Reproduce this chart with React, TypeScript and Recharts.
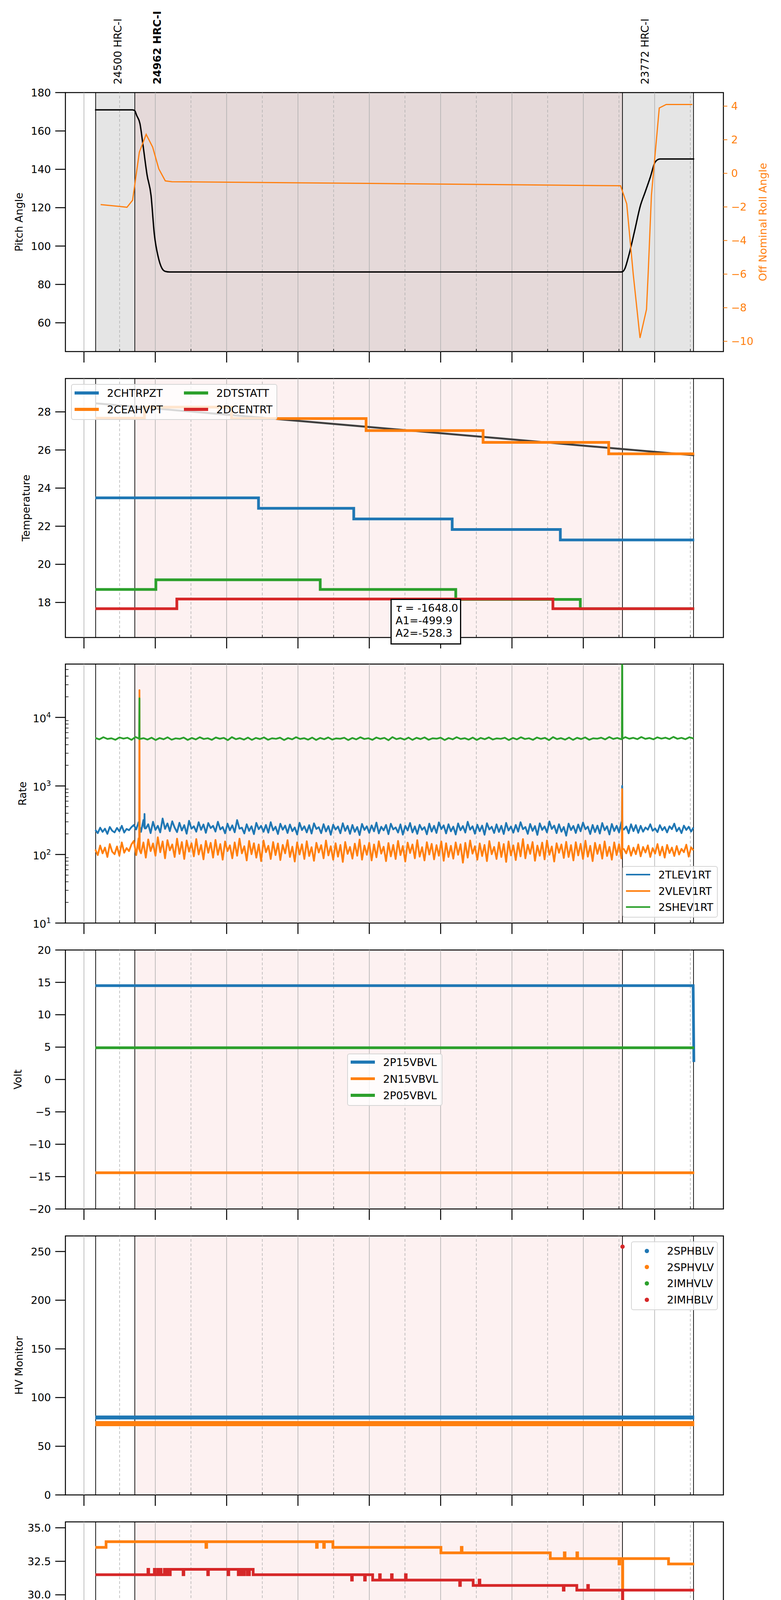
import React from 'react';
import {
  ComposedChart,
  Line,
  Scatter,
  XAxis,
  YAxis,
  ReferenceArea,
  ReferenceLine,
} from 'recharts';

const FONT = '"DejaVu Sans", sans-serif';
const BLUE = '#1f77b4';
const ORANGE = '#ff7f0e';
const GREEN = '#2ca02c';
const RED = '#d62728';

// time is in hours relative to 2021-02-17 00:00 (negative = 23h of the day before)
const X_DOMAIN: [number, number] = [-1.26, 7.964];
const X_TICKS = [-1, -0.5, 0, 0.5, 1, 1.5, 2, 2.5, 3, 3.5, 4, 4.5, 5, 5.5, 6, 6.5, 7, 7.5];
const HOUR_LINES = [-1, 0, 1, 2, 3, 4, 5, 6, 7];
const HALF_LINES = [-0.5, 0.5, 1.5, 2.5, 3.5, 4.5, 5.5, 6.5, 7.5];
const OBS_IDS = ['24500 HRC-I', '24962 HRC-I', '23772 HRC-I'];
const OBS_START = [-0.836, -0.287, 6.549];
const OBS_END = 7.545;
const CURRENT_OBS = 1;

// layout of the stacked panels (page pixels)
const PLOT_RIGHT = 1852.5;
const LEFT_W = 167.5;
const PANEL_H = 663;
const PANEL_STEP = 731.7;
const FIRST_TOP = 237;

type Pair = [number, number];
const toPts = (pairs: Pair[]) => pairs.map(([t, v]) => ({ t, v }));

// ---- panel 1: pitch / roll
const pitchT = [-0.845, -0.32, -0.289, -0.26, -0.216, -0.17, -0.115, -0.06, -0.013, 0.043, 0.092, 0.14, 0.2, 6.52, 6.549, 6.58, 6.637, 6.72, 6.8, 6.866, 6.94, 7.003, 7.04, 7.075, 7.555];
const pitchV = [171, 171, 170.6, 168, 164, 152, 137, 126.5, 106, 94, 88.5, 86.8, 86.5, 86.5, 86.6, 88, 95, 108, 121, 128, 136, 143.5, 145, 145.4, 145.4];
const rollT = [-0.766, -0.5, -0.397, -0.318, -0.224, -0.128, -0.037, 0.049, 0.14, 0.232, 3.0, 6.523, 6.609, 6.7, 6.795, 6.886, 6.91, 6.955, 7.065, 7.162, 7.529];
const rollV = [-1.86, -1.97, -2.02, -1.6, 1.25, 2.32, 1.56, 0.27, -0.45, -0.5, -0.6, -0.74, -1.82, -6.0, -9.8, -8.1, -5.9, -1.3, 3.89, 4.1, 4.1];

// ---- panel 2: temperatures
const chtrpzt: Pair[] = [[-0.84, 23.49], [1.447, 22.94], [2.782, 22.38], [4.162, 21.83], [5.678, 21.28], [7.555, 21.28]];
const ceahvpt: Pair[] = [[-0.84, 27.67], [-0.152, 28.25], [1.069, 27.65], [2.955, 27.02], [4.595, 26.4], [6.356, 25.8], [7.555, 25.8]];
const dtstatt: Pair[] = [[-0.84, 18.68], [0.008, 19.19], [2.312, 18.68], [4.212, 18.16], [5.958, 17.67], [7.555, 17.67]];
const dcentrt: Pair[] = [[-0.84, 17.67], [0.302, 18.18], [5.574, 17.67], [7.555, 17.67]];
const ceahvptFit: Pair[] = [[-0.84, 28.45], [2.958, 27.22], [7.555, 25.72]];
const FIT_TEXT = ['-1648.0', '-499.9', '-528.3'];

// ---- panel 3: rates (regular samples from RATE_T0 to RATE_T1, plus spikes)
const RATE_T0 = -0.84;
const RATE_T1 = 7.545;
const tlev1rt = [
  228, 205, 246, 214, 238, 200, 252, 222, 210, 244, 218, 262, 209, 236, 226, 250, 270, 232, 296, 214, 318, 240, 276, 205, 300,
  228, 262, 210, 335, 236, 284, 219, 305, 247, 212, 290, 224, 268, 201, 310, 238, 258, 215, 296, 229, 274, 207, 288, 243, 262,
  216, 300, 232, 252, 204, 282, 226, 266, 211, 318, 238, 246, 203, 276, 221, 258, 198, 289, 234, 262, 214, 270, 208, 296, 225,
  254, 199, 281, 230, 264, 206, 274, 219, 248, 196, 290, 227, 258, 210, 268, 202, 285, 236, 250, 205, 277, 217, 260, 194, 272,
  231, 256, 204, 286, 221, 262, 200, 270, 214, 252, 192, 279, 228, 258, 207, 266, 218, 292, 203, 254, 225, 270, 198, 281, 232,
  248, 209, 275, 195, 262, 224, 288, 210, 257, 200, 271, 229, 251, 197, 282, 216, 262, 206, 294, 235, 266, 203, 276, 218, 255,
  196, 284, 226, 260, 209, 300, 230, 258, 201, 272, 219, 264, 194, 286, 232, 254, 206, 275, 213, 262, 199, 289, 224, 256, 208,
  270, 216, 296, 234, 252, 200, 279, 221, 260, 193, 285, 229, 257, 210, 303, 236, 264, 205, 276, 215, 252, 188, 282, 227, 261,
  206, 274, 218, 292, 233, 255, 199, 270, 212, 264, 202, 288, 226, 258, 196, 279, 220, 262, 210, 298, 231, 256, 204, 276, 219,
  268, 207, 262, 215, 248, 230, 276, 222, 240, 212, 268, 226, 252, 210, 258, 234, 282, 218, 246, 205, 264, 228, 254, 216, 248,
];
const vlev1rt = [
  118, 98, 135, 104, 126, 92, 142, 110, 101, 131, 96, 150, 106, 124, 112, 140, 158, 98, 172, 104, 150, 90, 166, 112, 145,
  96, 178, 108, 155, 88, 162, 115, 140, 92, 170, 102, 152, 86, 160, 110, 146, 94, 168, 100, 138, 85, 158, 106, 148, 90,
  163, 99, 142, 84, 155, 112, 136, 88, 150, 96, 170, 104, 132, 82, 158, 101, 146, 90, 140, 80, 160, 108, 134, 86, 152,
  98, 145, 83, 138, 104, 162, 92, 130, 79, 150, 100, 141, 86, 156, 95, 128, 81, 148, 107, 137, 88, 160, 97, 132, 84,
  146, 93, 138, 78, 152, 102, 129, 87, 144, 96, 165, 84, 135, 99, 148, 82, 140, 91, 156, 103, 130, 80, 147, 94, 138,
  86, 158, 98, 133, 79, 149, 105, 140, 88, 162, 93, 128, 82, 151, 100, 143, 85, 137, 96, 155, 81, 146, 92, 134, 87,
  150, 99, 141, 76, 148, 90, 160, 103, 132, 84, 145, 95, 138, 80, 157, 101, 129, 86, 150, 92, 142, 78, 155, 97, 136,
  83, 147, 94, 168, 88, 139, 102, 152, 81, 135, 96, 149, 85, 160, 99, 131, 79, 146, 106, 140, 89, 153, 92, 137, 82,
  151, 97, 143, 86, 159, 93, 134, 80, 148, 102, 139, 87, 155, 95, 129, 84, 150, 98, 141, 88, 120, 104, 134, 96, 126,
  101, 140, 94, 129, 107, 136, 92, 124, 103, 142, 97, 130, 90, 138, 105, 126, 95, 133, 100, 121, 108, 139, 93, 127, 115,
];
const shev1rt = [
  5020, 4780, 5140, 4850, 4960, 4720, 5100, 4900, 5050, 4700, 5180, 4820, 4980, 4750, 5060, 4680, 5000, 4800, 5120, 4730, 4950, 4860, 5080, 4690, 5010,
  4770, 5130, 4840, 4970, 4710, 5090, 4880, 5030, 4660, 5150, 4810, 4990, 4740, 5070, 4700, 5020, 4830, 5110, 4720, 4960, 4870, 5060, 4680, 5000, 4790,
  5140, 4850, 4980, 4730, 5080, 4690, 5020, 4810, 5100, 4750, 4950, 4880, 5050, 4670, 5010, 4780, 5130, 4840, 4970, 4710, 5090, 4860, 5030, 4650, 5160,
  4820, 4990, 4740, 5070, 4700, 5040, 4830, 5110, 4720, 4960, 4890, 5060, 4680, 5000, 4790, 5140, 4850, 4980, 4730, 5080, 4690, 5020, 4810, 5100, 4760,
  4950, 4870, 5050, 4670, 5010, 4780, 5130, 4840, 4970, 4710, 5090, 4860, 5030, 4660, 5150, 4820, 4990, 4740, 5070, 4700, 5040, 4830, 5110, 4720, 4960,
  4890, 5060, 4780, 5170, 4850, 5020, 4800, 5150, 4880, 5040, 4820, 5180, 4860, 5010, 4790, 5120, 4900, 5060, 4830, 5200, 4870, 5030, 4810, 5140, 4920,
];
const tlevSpikes: Pair[] = [[-0.155, 250], [-0.151, 390], [-0.147, 240], [6.541, 230], [6.545, 1000], [6.549, 240]];
const vlevSpikes: Pair[] = [[-0.226, 120], [-0.222, 25000], [-0.218, 115], [6.541, 115], [6.545, 900], [6.549, 120]];
const shevSpikes: Pair[] = [[-0.226, 4900], [-0.222, 19000], [-0.218, 4850], [6.541, 4850], [6.545, 200000], [6.549, 4900]];
const RATE_TICKS = [
  10, 20, 30, 40, 50, 60, 70, 80, 90,
  100, 200, 300, 400, 500, 600, 700, 800, 900,
  1000, 2000, 3000, 4000, 5000, 6000, 7000, 8000, 9000,
  10000, 20000, 30000, 40000, 50000, 60000,
];

// ---- panel 4: voltages
const p15vbvl: Pair[] = [[-0.84, 14.5], [7.54, 14.5], [7.55, 2.7]];
const n15vbvl: Pair[] = [[-0.84, -14.4], [7.555, -14.4]];
const p05vbvl: Pair[] = [[-0.84, 4.9], [7.555, 4.9]];

// ---- panel 5: HV monitors
const sphblv: Pair[] = [[-0.84, 79.5], [7.555, 79.5]];
const sphvlv: Pair[] = [[-0.84, 73.2], [7.555, 73.2]];
const imhvlv: Pair[] = [];
const imhblv: Pair[] = [[6.55, 255]];

// ---- panel 6: detector temperatures
const spinatm: Pair[] = [[-0.84, 16.99], [0.232, 17.64], [0.25, 16.99], [0.27, 17.64], [0.295, 16.99], [0.33, 17.64], [6.55, 5], [6.553, 17.64], [7.555, 17.64]];
const sphvatm: Pair[] = [
  [-0.84, 33.54], [-0.69, 33.96], [0.71, 33.54], [0.72, 33.96], [2.26, 33.54], [2.27, 33.96], [2.36, 33.54], [2.37, 33.96],
  [2.49, 33.54], [4.004, 33.13], [4.29, 33.54], [4.3, 33.13], [5.537, 32.7], [5.734, 33.13], [5.744, 32.7], [5.91, 33.13], [5.92, 32.7],
  [6.5, 32.3], [6.51, 32.7], [6.55, 5], [6.553, 32.7], [7.195, 32.3], [7.555, 32.3],
];
const iminatm: Pair[] = [[-0.84, 18.3], [0.232, 18.94], [3.806, 18.3], [6.55, 5], [6.553, 18.3], [6.943, 17.64], [7.555, 17.64]];
const imhvatm: Pair[] = [
  [-0.84, 31.5], [-0.103, 31.9], [-0.093, 31.5], [-0.013, 31.9], [-0.003, 31.5], [0.036, 31.9], [0.046, 31.5], [0.071, 31.9], [0.081, 31.5],
  [0.127, 31.9], [0.15, 31.5], [0.17, 31.9], [0.19, 31.5], [0.21, 31.9], [0.39, 31.5], [0.4, 31.9], [0.735, 31.5], [0.745, 31.9],
  [1.02, 31.5], [1.03, 31.9], [1.163, 31.5], [1.19, 31.9], [1.22, 31.5], [1.25, 31.9], [1.29, 31.5], [1.32, 31.9], [1.372, 31.5],
  [2.752, 31.1], [2.762, 31.5], [2.934, 31.1], [2.944, 31.5], [3.047, 31.1], [3.144, 31.5], [3.154, 31.1], [3.311, 31.5], [3.321, 31.1],
  [3.507, 31.5], [3.517, 31.1], [4.267, 30.7], [4.277, 31.1], [4.456, 30.7], [4.54, 31.1], [4.55, 30.7], [5.72, 30.35], [5.73, 30.7],
  [5.909, 30.35], [6.062, 30.7], [6.072, 30.35], [6.55, 18.0], [6.553, 30.35], [7.555, 30.35],
];

// ---- panel 7: FEA temperatures
const fhtrmzt: Pair[] = [[-0.84, 21.8], [-0.2, 22.35], [0.35, 21.8], [1.314, 21.24], [2.327, 20.7], [3.409, 20.2], [4.61, 19.67], [5.978, 19.15], [6.55, 5], [6.553, 19.15], [7.458, 19.67], [7.555, 19.67]];
const fradpyt: Pair[] = [
  [-0.84, 17.65], [-0.25, 18.14], [0.056, 17.65], [0.302, 17.15], [0.679, 16.67], [1.3, 16.2], [2.153, 15.72], [3.109, 15.25],
  [4.191, 14.78], [5.413, 14.3], [6.55, 5], [6.553, 14.3], [6.782, 14.78], [6.945, 15.25], [6.975, 14.78], [7.312, 15.25], [7.555, 15.25],
];
const fepratm: Pair[] = [[-0.84, 23.86], [1.349, 23.13], [2.906, 22.4], [4.617, 21.68], [6.55, 40], [6.552, 5], [6.555, 21.68], [6.872, 20.94], [6.88, 21.68], [7.555, 21.68]];
const fe00atm: Pair[] = [
  [-0.84, 22.0], [-0.11, 22.65], [-0.1, 22.0], [0.057, 21.1], [0.067, 22.0], [0.441, 22.35], [0.451, 22.0], [0.532, 21.7], [0.542, 22.0],
  [0.812, 22.35], [0.822, 21.7], [1.153, 20.8], [1.163, 21.7], [1.342, 22.65], [1.352, 21.7], [1.384, 20.8], [1.394, 21.7],
  [1.51, 21.4], [1.789, 21.1], [1.799, 21.4], [1.956, 22.0], [1.966, 21.4], [1.991, 22.0], [2.001, 21.4],
  [2.25, 21.07], [2.264, 22.65], [2.274, 21.07], [2.836, 20.75], [2.846, 21.07], [2.899, 21.4], [2.909, 20.5], [2.919, 21.07],
  [3.045, 20.78], [3.095, 21.1], [3.105, 20.78], [3.255, 21.1], [3.265, 20.78], [3.29, 20.5], [3.3, 20.78], [3.395, 19.25], [3.405, 20.78],
  [3.472, 21.1], [3.482, 20.78], [3.66, 21.4], [3.67, 20.78], [3.758, 19.85], [3.768, 20.78], [3.807, 21.1], [3.817, 20.78],
  [3.863, 20.47], [3.953, 21.1], [3.963, 20.47], [4.024, 20.8], [4.034, 20.47], [4.128, 20.8], [4.138, 20.47], [4.254, 21.4], [4.264, 20.47],
  [4.701, 21.1], [4.711, 20.47], [4.77, 20.16], [4.798, 20.8], [4.808, 20.16], [4.82, 21.4], [4.83, 20.16], [4.896, 20.8], [4.906, 20.16],
  [4.945, 21.1], [4.955, 20.16], [4.98, 19.55], [4.99, 20.16], [5.175, 20.8], [5.185, 20.16], [5.573, 20.5], [5.583, 20.16],
  [5.769, 19.3], [5.779, 19.86], [5.936, 20.2], [5.946, 19.86], [6.146, 20.8], [6.156, 19.86], [6.502, 19.0], [6.512, 19.86],
  [6.55, 5], [6.553, 19.86], [7.555, 19.86],
];

// ---------------------------------------------------------------------------

const regular = (vals: number[], spikes: Pair[]) =>
  [
    ...vals.map((v, i) => ({ t: RATE_T0 + (i * (RATE_T1 - RATE_T0)) / (vals.length - 1), v })),
    ...toPts(spikes),
  ].sort((a, b) => a.t - b.t);

const minus = (v: number, digits = 0) => (v < 0 ? '\u2212' : '') + Math.abs(v).toFixed(digits);
const hourLabel = (v: number) => String(v < 0 ? v + 24 : v).padStart(2, '0') + 'h';

function xTickFactory(labels: boolean) {
  return function XTick(p: any) {
    const { x, y, payload } = p;
    const v = payload.value;
    const hour = Number.isInteger(v);
    return (
      <g>
        {hour ? (
          <line x1={x} x2={x} y1={y} y2={y + 28} stroke="#000" strokeWidth={2.5} />
        ) : (
          <line x1={x} x2={x} y1={y} y2={y - 7} stroke="#000" strokeWidth={1.5} />
        )}
        {labels && hour && (
          <text x={x} y={y + 61} textAnchor="middle" fontSize={27} fontFamily={FONT} fill="#000">
            {hourLabel(v)}
          </text>
        )}
        {labels && !hour && (
          <text x={x} y={y + 21} textAnchor="middle" fontSize={18} fontFamily={FONT} fill="#000">
            30
          </text>
        )}
      </g>
    );
  };
}

function yTickFactory(fmt: (v: number) => string, side: 'left' | 'right' = 'left', color = '#000') {
  return function YTick(p: any) {
    const { x, y, payload } = p;
    if (side === 'right') {
      return (
        <g>
          <line x1={x} x2={x + 10} y1={y} y2={y} stroke={color} strokeWidth={2} />
          <text x={x + 20} y={y} dy="0.36em" textAnchor="start" fontSize={27} fontFamily={FONT} fill={color}>
            {fmt(payload.value)}
          </text>
        </g>
      );
    }
    return (
      <g>
        <line x1={x - 26} x2={x} y1={y} y2={y} stroke={color} strokeWidth={2.5} />
        <text x={x - 37} y={y} dy="0.36em" textAnchor="end" fontSize={27} fontFamily={FONT} fill={color}>
          {fmt(payload.value)}
        </text>
      </g>
    );
  };
}

function LogTick(p: any) {
  const { x, y, payload } = p;
  const lv = Math.log10(payload.value);
  const major = Math.abs(lv - Math.round(lv)) < 1e-9;
  if (!major) return <line x1={x} x2={x + 8} y1={y} y2={y} stroke="#000" strokeWidth={1.5} />;
  return (
    <g>
      <line x1={x - 26} x2={x} y1={y} y2={y} stroke="#000" strokeWidth={2.5} />
      <text x={x - 37} y={y} dy="0.45em" textAnchor="end" fontSize={27} fontFamily={FONT} fill="#000">
        10
        <tspan dy="-12" fontSize={19}>
          {Math.round(lv)}
        </tspan>
      </text>
    </g>
  );
}

function AxisTitle(props: any) {
  const { text, cx, cy, color = '#000', size = 27, rotate = true } = props;
  return (
    <text
      x={cx}
      y={cy}
      transform={rotate ? `rotate(-90 ${cx} ${cy})` : undefined}
      textAnchor="middle"
      dominantBaseline="central"
      fontSize={size}
      fontFamily={FONT}
      fill={color}
    >
      {text}
    </text>
  );
}

function ObsLabel(props: any) {
  const { viewBox, text, bold } = props;
  if (!viewBox) return null;
  const x = viewBox.x + 57;
  const y = FIRST_TOP - 21;
  return (
    <text
      x={x}
      y={y}
      transform={`rotate(-90 ${x} ${y})`}
      textAnchor="start"
      dominantBaseline="central"
      fontSize={27}
      fontWeight={bold ? 'bold' : 'normal'}
      fontFamily={FONT}
      fill="#000"
    >
      {text}
    </text>
  );
}

type PanelProps = {
  idx: number;
  yDomain: [number, number];
  yTicks: number[];
  yTick: any;
  yLabel: string;
  yLabelX: number;
  scale?: 'linear' | 'log';
  series: React.ReactNode[];
  right?: { domain: [number, number]; ticks: number[]; label: string };
};

function Panel({ idx, yDomain, yTicks, yTick, yLabel, yLabelX, scale = 'linear', series, right }: PanelProps) {
  const first = idx === 0;
  const last = idx === 6;
  const mt = first ? FIRST_TOP : 40;
  const xh = last ? 110 : 40;
  const top = FIRST_TOP + idx * PANEL_STEP - mt;
  const height = mt + PANEL_H + xh;
  const rightW = right ? 110 : 0;
  const midY = mt + PANEL_H / 2;

  const shading = first
    ? [
        <ReferenceArea key="s0" yAxisId="L" x1={OBS_START[0]} x2={OBS_START[1]} fill="#e5e5e5" fillOpacity={1} stroke="none" />,
        <ReferenceArea key="s1" yAxisId="L" x1={OBS_START[1]} x2={OBS_START[2]} fill="#e5d9d9" fillOpacity={1} stroke="none" />,
        <ReferenceArea key="s2" yAxisId="L" x1={OBS_START[2]} x2={OBS_END} fill="#e5e5e5" fillOpacity={1} stroke="none" />,
      ]
    : [
        <ReferenceArea key="s1" yAxisId="L" x1={OBS_START[CURRENT_OBS]} x2={OBS_START[CURRENT_OBS + 1]} fill="#fdf1f1" fillOpacity={1} stroke="none" />,
      ];

  const grid = [
    ...HOUR_LINES.map((h) => <ReferenceLine key={'h' + h} yAxisId="L" x={h} stroke="#b0b0b0" strokeWidth={1.6} />),
    ...HALF_LINES.map((h) => (
      <ReferenceLine key={'m' + h} yAxisId="L" x={h} stroke="#b0b0b0" strokeWidth={1.5} strokeDasharray="7 5" />
    )),
  ];

  const obsLines = OBS_START.map((t, i) => (
    <ReferenceLine
      key={'o' + i}
      yAxisId="L"
      x={t}
      stroke="#000"
      strokeWidth={1.8}
      label={first ? <ObsLabel text={OBS_IDS[i]} bold={i === CURRENT_OBS} /> : undefined}
    />
  ));
  obsLines.push(<ReferenceLine key="oe" yAxisId="L" x={OBS_END} stroke="#000" strokeWidth={1.8} />);

  return (
    <div style={{ position: 'absolute', left: 0, top }}>
      <ComposedChart
        width={2000}
        height={height}
        margin={{ top: mt, right: 2000 - PLOT_RIGHT - rightW, bottom: 0, left: 0 }}
      >
        {shading}
        {grid}
        {obsLines}
        <XAxis
          dataKey="t"
          type="number"
          domain={X_DOMAIN}
          allowDataOverflow
          ticks={X_TICKS}
          interval={0}
          height={xh}
          tickSize={0}
          tickMargin={0}
          axisLine={false}
          tickLine={false}
          tick={xTickFactory(last)}
          label={last ? <AxisTitle text="2021-02-17 (048)" cx={1010} cy={mt + PANEL_H + 86} size={31} rotate={false} /> : undefined}
        />
        <YAxis
          yAxisId="L"
          dataKey="v"
          type="number"
          scale={scale}
          domain={yDomain}
          allowDataOverflow
          ticks={yTicks}
          interval={0}
          width={LEFT_W}
          tickSize={0}
          tickMargin={0}
          axisLine={false}
          tickLine={false}
          tick={yTick}
          label={<AxisTitle text={yLabel} cx={yLabelX} cy={midY} />}
        />
        {right && (
          <YAxis
            yAxisId="R"
            orientation="right"
            type="number"
            domain={right.domain}
            allowDataOverflow
            ticks={right.ticks}
            interval={0}
            width={rightW}
            tickSize={0}
            tickMargin={0}
            axisLine={false}
            tickLine={false}
            tick={yTickFactory((v) => minus(v), 'right', ORANGE)}
            label={<AxisTitle text={right.label} cx={1953} cy={midY} color={ORANGE} />}
          />
        )}
        {series}
        <ReferenceArea
          yAxisId="L"
          x1={X_DOMAIN[0]}
          x2={X_DOMAIN[1]}
          fill="none"
          fillOpacity={0}
          stroke="#000"
          strokeWidth={2.5}
        />
      </ComposedChart>
    </div>
  );
}

function step(key: string, pairs: Pair[], color: string, width = 7, type: any = 'stepAfter') {
  return (
    <Line
      key={key}
      yAxisId="L"
      data={toPts(pairs)}
      dataKey="v"
      type={type}
      stroke={color}
      strokeWidth={width}
      dot={false}
      activeDot={false}
      isAnimationActive={false}
    />
  );
}

function rateLine(key: string, vals: number[], spikes: Pair[], color: string) {
  return (
    <Line
      key={key}
      yAxisId="L"
      data={regular(vals, spikes)}
      dataKey="v"
      type="linear"
      stroke={color}
      strokeWidth={4.5}
      strokeLinejoin="round"
      dot={false}
      activeDot={false}
      isAnimationActive={false}
    />
  );
}

type LegendItem = { label: string; color: string };

function LegendBox(props: {
  left: number;
  top: number;
  width: number;
  height: number;
  items: LegendItem[];
  firstRow: number;
  rowStep: number;
  cols?: number;
  colStep?: number;
  thick?: number;
  dots?: boolean;
}) {
  const { left, top, width, height, items, firstRow, rowStep, cols = 1, colStep = 0, thick = 7.5, dots = false } = props;
  const rows = Math.ceil(items.length / cols);
  return (
    <div
      style={{
        position: 'absolute',
        left,
        top,
        width,
        height,
        boxSizing: 'border-box',
        border: '2px solid #d5d5d5',
        borderRadius: 6,
        background: 'rgba(255,255,255,0.8)',
        fontFamily: FONT,
      }}
    >
      {items.map((it, i) => {
        const col = Math.floor(i / rows);
        const row = i % rows;
        const hx = 7 + col * colStep;
        const yc = firstRow + row * rowStep - 2;
        return (
          <React.Fragment key={it.label}>
            {dots ? (
              <div
                style={{
                  position: 'absolute',
                  left: hx + 31 - 5.5,
                  top: yc - 5.5,
                  width: 11,
                  height: 11,
                  borderRadius: '50%',
                  background: it.color,
                }}
              />
            ) : (
              <div style={{ position: 'absolute', left: hx, top: yc - thick / 2, width: 62, height: thick, background: it.color }} />
            )}
            <div
              style={{
                position: 'absolute',
                left: hx + 83,
                top: yc,
                transform: 'translateY(-50%)',
                fontSize: 27,
                lineHeight: 1,
                whiteSpace: 'nowrap',
                color: '#000',
              }}
            >
              {it.label}
            </div>
          </React.Fragment>
        );
      })}
    </div>
  );
}

const redDot = (p: any) => <circle cx={p.cx} cy={p.cy} r={5.5} fill={RED} />;

export default function App() {
  const pitch = pitchT.map((t, i) => ({ t, v: pitchV[i] }));
  const roll = rollT.map((t, i) => ({ t, v: rollV[i] }));

  return (
    <div
      style={{
        position: 'relative',
        margin: '-8px 0 0 -8px',
        width: 2000,
        height: 5392,
        background: '#fff',
        fontFamily: FONT,
      }}
    >
      <Panel
        idx={0}
        yDomain={[45, 180]}
        yTicks={[60, 80, 100, 120, 140, 160, 180]}
        yTick={yTickFactory((v) => minus(v))}
        yLabel="Pitch Angle"
        yLabelX={48}
        right={{ domain: [-10.61, 4.807], ticks: [-10, -8, -6, -4, -2, 0, 2, 4], label: 'Off Nominal Roll Angle' }}
        series={[
          <Line key="pitch" yAxisId="L" data={pitch} dataKey="v" type="monotone" stroke="#000" strokeWidth={3.5} dot={false} activeDot={false} isAnimationActive={false} />,
          <Line key="roll" yAxisId="R" data={roll} dataKey="v" type="linear" stroke={ORANGE} strokeWidth={3} dot={false} activeDot={false} isAnimationActive={false} />,
        ]}
      />
      <Panel
        idx={1}
        yDomain={[16.16, 29.75]}
        yTicks={[18, 20, 22, 24, 26, 28]}
        yTick={yTickFactory((v) => minus(v))}
        yLabel="Temperature"
        yLabelX={66}
        series={[
          step('fit', ceahvptFit, '#3f3f3f', 5, 'monotone'),
          step('chtrpzt', chtrpzt, BLUE),
          step('ceahvpt', ceahvpt, ORANGE),
          step('dtstatt', dtstatt, GREEN),
          step('dcentrt', dcentrt, RED),
        ]}
      />
      <Panel
        idx={2}
        yDomain={[10, 60000]}
        yTicks={RATE_TICKS}
        yTick={LogTick}
        scale="log"
        yLabel="Rate"
        yLabelX={57}
        series={[
          rateLine('tl', tlev1rt, tlevSpikes, BLUE),
          rateLine('vl', vlev1rt, vlevSpikes, ORANGE),
          rateLine('sh', shev1rt, shevSpikes, GREEN),
        ]}
      />
      <Panel
        idx={3}
        yDomain={[-20, 20]}
        yTicks={[-20, -15, -10, -5, 0, 5, 10, 15, 20]}
        yTick={yTickFactory((v) => minus(v))}
        yLabel="Volt"
        yLabelX={45}
        series={[
          step('p15', p15vbvl, BLUE, 7, 'linear'),
          step('n15', n15vbvl, ORANGE, 7, 'linear'),
          step('p05', p05vbvl, GREEN, 7, 'linear'),
        ]}
      />
      <Panel
        idx={4}
        yDomain={[0, 266]}
        yTicks={[0, 50, 100, 150, 200, 250]}
        yTick={yTickFactory((v) => minus(v))}
        yLabel="HV Monitor"
        yLabelX={48}
        series={[
          step('sphblv', sphblv, BLUE, 10, 'linear'),
          step('sphvlv', sphvlv, ORANGE, 13, 'linear'),
          step('imhvlv', imhvlv, GREEN, 10, 'linear'),
          <Scatter key="imhblv" yAxisId="L" data={toPts(imhblv)} dataKey="v" fill={RED} shape={redDot} isAnimationActive={false} />,
        ]}
      />
      <Panel
        idx={5}
        yDomain={[16.13, 35.44]}
        yTicks={[17.5, 20, 22.5, 25, 27.5, 30, 32.5, 35]}
        yTick={yTickFactory((v) => minus(v, 1))}
        yLabel="Detector Temp"
        yLabelX={41}
        series={[
          step('spinatm', spinatm, BLUE),
          step('sphvatm', sphvatm, ORANGE),
          step('iminatm', iminatm, GREEN),
          step('imhvatm', imhvatm, RED),
        ]}
      />
      <Panel
        idx={6}
        yDomain={[13.28, 24.6]}
        yTicks={[14, 16, 18, 20, 22, 24]}
        yTick={yTickFactory((v) => minus(v))}
        yLabel="FEA Temp"
        yLabelX={66}
        series={[
          step('fhtrmzt', fhtrmzt, BLUE),
          step('fradpyt', fradpyt, ORANGE),
          step('fepratm', fepratm, GREEN),
          step('fe00atm', fe00atm, RED),
        ]}
      />

      <LegendBox
        left={182}
        top={983}
        width={528}
        height={92}
        firstRow={23}
        rowStep={42}
        cols={2}
        colStep={280}
        items={[
          { label: '2CHTRPZT', color: BLUE },
          { label: '2CEAHVPT', color: ORANGE },
          { label: '2DTSTATT', color: GREEN },
          { label: '2DCENTRT', color: RED },
        ]}
      />
      <div
        style={{
          position: 'absolute',
          left: 1000,
          top: 1533,
          width: 181,
          height: 117,
          boxSizing: 'border-box',
          border: '3px solid #000',
          background: '#fff',
          padding: '5px 0 0 10px',
          fontSize: 27,
          lineHeight: '32px',
          fontFamily: FONT,
          whiteSpace: 'nowrap',
        }}
      >
        <div>
          <i>τ</i> = {FIT_TEXT[0]}
        </div>
        <div>A1={FIT_TEXT[1]}</div>
        <div>A2={FIT_TEXT[2]}</div>
      </div>
      <LegendBox
        left={1594}
        top={2217}
        width={244}
        height={132}
        firstRow={22}
        rowStep={41.5}
        thick={4}
        items={[
          { label: '2TLEV1RT', color: BLUE },
          { label: '2VLEV1RT', color: ORANGE },
          { label: '2SHEV1RT', color: GREEN },
        ]}
      />
      <LegendBox
        left={889}
        top={2697}
        width={244}
        height={134}
        firstRow={22}
        rowStep={42.5}
        items={[
          { label: '2P15VBVL', color: BLUE },
          { label: '2N15VBVL', color: ORANGE },
          { label: '2P05VBVL', color: GREEN },
        ]}
      />
      <LegendBox
        left={1616}
        top={3178}
        width={222}
        height={176}
        firstRow={24}
        rowStep={41.7}
        dots
        items={[
          { label: '2SPHBLV', color: BLUE },
          { label: '2SPHVLV', color: ORANGE },
          { label: '2IMHVLV', color: GREEN },
          { label: '2IMHBLV', color: RED },
        ]}
      />
      <LegendBox
        left={889}
        top={4141}
        width={245}
        height={174}
        firstRow={21}
        rowStep={42}
        items={[
          { label: '2SPINATM', color: BLUE },
          { label: '2SPHVATM', color: ORANGE },
          { label: '2IMINATM', color: GREEN },
          { label: '2IMHVATM', color: RED },
        ]}
      />
      <LegendBox
        left={182}
        top={5101}
        width={250}
        height={177}
        firstRow={22}
        rowStep={42}
        items={[
          { label: '2FHTRMZT', color: BLUE },
          { label: '2FRADPYT', color: ORANGE },
          { label: '2FEPRATM', color: GREEN },
          { label: '2FE00ATM', color: RED },
        ]}
      />
    </div>
  );
}
